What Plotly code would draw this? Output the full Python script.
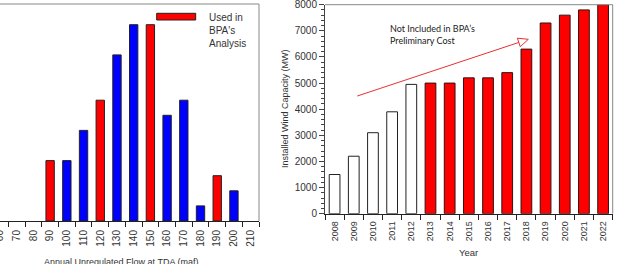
import plotly.graph_objects as go

# ---- data: left chart (histogram of annual flow) ----
flow_bins = ["60", "70", "80", "90", "100", "110", "120", "130", "140", "150",
             "160", "170", "180", "190", "200", "210"]
used_bins = ["90", "120", "150", "190"]
used_counts = [4, 8, 13, 3]
other_bins = ["100", "110", "130", "140", "160", "170", "180", "200"]
other_counts = [4, 6, 11, 13, 7, 8, 1, 2]

# ---- data: right chart (installed wind capacity) ----
years_hist = ["2008", "2009", "2010", "2011", "2012"]
cap_hist = [1500, 2200, 3100, 3900, 4950]
years_future = ["2013", "2014", "2015", "2016", "2017", "2018", "2019", "2020", "2021", "2022"]
cap_future = [5000, 5000, 5200, 5200, 5400, 6300, 7300, 7600, 7800, 8000]
all_years = years_hist + years_future

W, H = 617, 264
def px(x):
    return x / W
def py(y):
    return 1 - y / H

FONT = "Liberation Sans, Arial, sans-serif"
TXT = "#333333"

fig = go.Figure()

fig.add_trace(go.Bar(x=used_bins, y=used_counts, width=0.5,
                     marker=dict(color="#ff0000", line=dict(color="#222222", width=1)),
                     xaxis="x", yaxis="y", showlegend=False))
fig.add_trace(go.Bar(x=other_bins, y=other_counts, width=0.5,
                     marker=dict(color="#0000ff", line=dict(color="#222222", width=1)),
                     xaxis="x", yaxis="y", showlegend=False))

fig.add_trace(go.Bar(x=years_hist, y=cap_hist, width=0.56,
                     marker=dict(color="#ffffff", line=dict(color="#222222", width=1)),
                     xaxis="x2", yaxis="y2", showlegend=False))
fig.add_trace(go.Bar(x=years_future, y=cap_future, width=0.56,
                     marker=dict(color="#ff0000", line=dict(color="#331111", width=1)),
                     xaxis="x2", yaxis="y2", showlegend=False))

# chart geometry (pixels)
L_x0, L_x1, L_top, L_bot = 0, 259, 4, 221
R_x0, R_x1, R_top, R_bot = 325, 612.7, 4.7, 213.7

fig.update_layout(
    width=W, height=H,
    margin=dict(l=0, r=0, t=0, b=0, autoexpand=False),
    paper_bgcolor="white", plot_bgcolor="white",
    barmode="overlay",
    font=dict(family=FONT, color=TXT, size=10),
    xaxis=dict(domain=[px(L_x0), px(L_x1)], anchor="y", automargin=False,
               type="category", categoryorder="array", categoryarray=flow_bins,
               range=[0, 15.5], tickson="boundaries",
               ticks="outside", ticklen=5, tickcolor="#222222",
               ticklabelstandoff=4, ticklabeloverflow="allow",
               tickangle=-90, tickfont=dict(size=10, color=TXT, family=FONT),
               showline=True, linecolor="#222222", linewidth=1, mirror=False,
               showgrid=False, zeroline=False),
    yaxis=dict(domain=[py(L_bot), py(L_top)], anchor="x", automargin=False,
               range=[0, 14.37], visible=False, showgrid=False),
    xaxis2=dict(domain=[px(R_x0), px(R_x1)], anchor="y2", automargin=False,
                type="category", categoryorder="array", categoryarray=all_years,
                range=[-0.5, 14.5], tickson="boundaries",
                ticks="outside", ticklen=5, tickcolor="#222222",
                ticklabelstandoff=3, ticklabeloverflow="allow",
                tickangle=-90, tickfont=dict(size=9, color=TXT, family=FONT),
                showline=True, linecolor="#222222", linewidth=1,
                showgrid=False, zeroline=False),
    yaxis2=dict(domain=[py(R_bot), py(R_top)], anchor="x2", automargin=False,
                range=[0, 8000], dtick=1000, tick0=0,
                ticks="outside", ticklen=5, tickcolor="#444444",
                ticklabeloverflow="allow",
                minor=dict(dtick=200, ticks="outside", ticklen=3, tickcolor="#444444"),
                tickfont=dict(size=10, color=TXT, family=FONT),
                showline=True, linecolor="#444444", linewidth=1,
                showgrid=False, zeroline=False),
)

shapes = []
# left chart: top and right border
shapes.append(dict(type="line", xref="paper", yref="paper",
                   x0=px(L_x0), x1=px(L_x1), y0=py(L_top), y1=py(L_top),
                   line=dict(color="#888888", width=1)))
shapes.append(dict(type="line", xref="paper", yref="paper",
                   x0=px(L_x1), x1=px(L_x1), y0=py(L_top), y1=py(L_bot),
                   line=dict(color="#888888", width=1)))
# right chart: top and right border
shapes.append(dict(type="line", xref="paper", yref="paper",
                   x0=px(R_x0), x1=px(R_x1), y0=py(R_top), y1=py(R_top),
                   line=dict(color="#888888", width=1)))
shapes.append(dict(type="line", xref="paper", yref="paper",
                   x0=px(R_x1), x1=px(R_x1), y0=py(R_top), y1=py(R_bot),
                   line=dict(color="#888888", width=1)))
# legend swatch
shapes.append(dict(type="rect", xref="paper", yref="paper",
                   x0=px(156.7), x1=px(195.7), y0=py(20), y1=py(13.3),
                   fillcolor="#ff0000", line=dict(color="#222222", width=1)))
# arrow shaft and open head
sx, sy = 357.3, 96.0
tx, ty = 528.3, 39.3
dx, dy = tx - sx, ty - sy
ln = (dx * dx + dy * dy) ** 0.5
ux, uy = dx / ln, dy / ln
nx, ny = -uy, ux
hl, hw = 10.0, 4.5
bx, by = tx - hl * ux, ty - hl * uy
shapes.append(dict(type="line", xref="paper", yref="paper",
                   x0=px(sx), y0=py(sy), x1=px(bx), y1=py(by),
                   line=dict(color="#e83030", width=1)))
p1 = (bx + hw * nx, by + hw * ny)
p2 = (bx - hw * nx, by - hw * ny)
shapes.append(dict(type="path", xref="paper", yref="paper",
                   path=f"M {px(tx)},{py(ty)} L {px(p1[0])},{py(p1[1])} L {px(p2[0])},{py(p2[1])} Z",
                   fillcolor="white", line=dict(color="#e83030", width=1)))
fig.update_layout(shapes=shapes)

annotations = [
    dict(text="Used in<br>BPA's<br>Analysis", xref="paper", yref="paper",
         x=px(206.5), y=py(9.5), xanchor="left", yanchor="top", align="left",
         showarrow=False, font=dict(size=10, color=TXT, family=FONT)),
    dict(text="Annual Unregulated Flow at TDA (maf)", xref="paper", yref="paper",
         x=px(121), y=py(262), xanchor="center", yanchor="middle",
         showarrow=False, font=dict(size=9, color=TXT, family=FONT)),
    dict(text="Installed Wind Capacity (MW)", xref="paper", yref="paper",
         x=px(285), y=py(109), xanchor="center", yanchor="middle", textangle=-90,
         showarrow=False, font=dict(size=9, color=TXT, family=FONT)),
    dict(text="Year", xref="paper", yref="paper",
         x=px(468), y=py(252.7), xanchor="center", yanchor="middle",
         showarrow=False, font=dict(size=9.5, color=TXT, family=FONT)),
    dict(text="Not Included in BPA’s<br>Preliminary Cost", xref="paper", yref="paper",
         x=px(387.5), y=py(20.5), xanchor="left", yanchor="top", align="left",
         showarrow=False, font=dict(size=9, color="#222222", family="Lato, Carlito, sans-serif")),
]
fig.update_layout(annotations=annotations)

fig.write_html("out.html")
